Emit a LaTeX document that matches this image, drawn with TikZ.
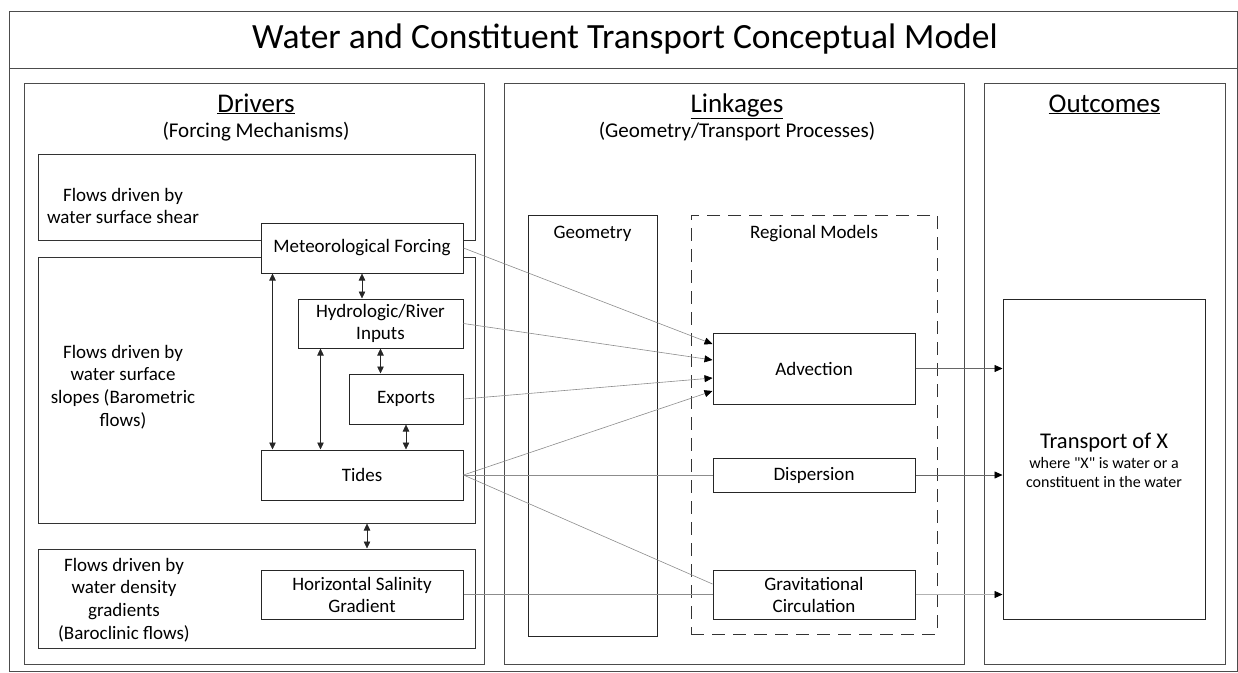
\documentclass[tikz,border=0pt]{standalone}
\usepackage{fontspec}
\setmainfont{Carlito}
\newfontfamily\nomapfont{Carlito}
\usetikzlibrary{arrows.meta}
\begin{document}
\begin{tikzpicture}[x=1pt,y=-1pt,
  frame/.style={draw=black!70, line width=1pt, inner sep=0pt},
  box/.style={draw=black!85, line width=1pt, fill=white, inner sep=0pt, align=center, font=\fontsize{19}{22}\selectfont},
  lbl/.style={inner sep=0pt, align=center, font=\fontsize{19}{22.7}\selectfont},
  head/.style={inner sep=0pt, anchor=base, font=\fontsize{27}{31}\selectfont},
  sub/.style={inner sep=0pt, anchor=base, font=\fontsize{21}{25}\selectfont},
  conn/.style={draw=black!45, line width=0.6pt},
  arr/.style={conn, -{Triangle[length=8pt,width=7pt,color=black]}},
  dbl/.style={draw=black!85, line width=0.6pt, {Triangle[length=7pt,width=6.5pt]}-{Triangle[length=7pt,width=6.5pt]}},
  outarr/.style={draw=black!60, line width=0.6pt, -{Triangle[length=8pt,width=7pt,color=black]}}
]
\useasboundingbox (0,0) rectangle (1238,672);
% outer frame
\node[frame, minimum width=1228pt, minimum height=57pt] (titlebox) at (623,39.5) {};
\node[frame, minimum width=1228pt, minimum height=603pt] (body) at (623,369.5) {};
\node[inner sep=0pt, anchor=base, font=\fontsize{35.5}{40}\selectfont] (title) at (625,48) {Water and Constituent Transport Conceptual Model};
% panels
\node[frame, minimum width=460pt, minimum height=581pt] (drv) at (254,373.5) {};
\node[frame, minimum width=460pt, minimum height=581pt] (lnk) at (734,373.5) {};
\node[frame, minimum width=241pt, minimum height=581pt] (out) at (1104.5,373.5) {};
\node[head] (drvh) at (256,112) {\underline{Drivers}};
\node[sub] (drvs) at (256,137) {(Forcing Mechanisms)};
\node[head] (lnkh) at (737,112) {\underline{Linkages}};
\node[sub] (lnks) at (737,137) {(Geometry/Transport Processes)};
\node[head] (outh) at (1104.5,112) {\underline{Outcomes}};
% driver regions
\node[frame, draw=black!80, minimum width=437pt, minimum height=86pt] (shear) at (256.5,197) {};
\node[frame, draw=black!80, minimum width=437pt, minimum height=266pt] (baro) at (256.5,390) {};
\node[frame, draw=black!80, minimum width=437pt, minimum height=99pt] (clin) at (256.5,598.5) {};
\node[lbl, font=\fontsize{19}{21.5}\selectfont] (sheart) at (123,206) {Flows driven by\\water surface shear};
\node[lbl] (barot) at (123,387) {Flows driven by\\water surface\\slopes (Barometric\\flows)};
\node[lbl] (clint) at (124,600) {Flows driven by\\water density\\gradients\\(Baroclinic flows)};
% driver boxes
\node[box, minimum width=202pt, minimum height=50pt] (met) at (362,248) {Meteorological Forcing};
\node[box, minimum width=165pt, minimum height=49pt] (hyd) at (380.5,323.5) {Hydrologic/River\\Inputs};
\node[box, minimum width=114pt, minimum height=50pt] (exp) at (406,399) {Exports};
\node[box, minimum width=202pt, minimum height=50pt] (tid) at (362,475) {Tides};
\node[box, minimum width=202pt, minimum height=49pt] (sal) at (362,594.5) {Horizontal Salinity\\Gradient};
% linkages
\node[frame, draw=black!85, minimum width=129pt, minimum height=421pt] (geo) at (592.5,425.5) {};
\node[frame, draw=black!80, dash pattern=on 13pt off 8pt, minimum width=246pt, minimum height=419pt] (reg) at (814,424.5) {};
\node[inner sep=0pt, anchor=base, font=\fontsize{19}{22}\selectfont] (geot) at (592.5,238) {Geometry};
\node[inner sep=0pt, anchor=base, font=\fontsize{19}{22}\selectfont] (regt) at (814,238) {Regional Models};
\node[box, minimum width=202pt, minimum height=71pt] (adv) at (814,368.5) {Advection};
\node[box, minimum width=202pt, minimum height=34pt] (dis) at (814,475) {Dispersion};
\node[box, minimum width=202pt, minimum height=49pt] (grv) at (814,594.5) {Gravitational\\Circulation};
% outcome
\node[box, minimum width=202pt, minimum height=320pt] (trn) at (1104,459) {};
\node[inner sep=0pt, anchor=base, font=\fontsize{22.5}{27}\selectfont] (trnt) at (1104,448) {Transport of X};
\node[inner sep=0pt, anchor=base, font=\nomapfont\fontsize{16}{19}\selectfont] (trns1) at (1104,468) {where "X" is water or a};
\node[inner sep=0pt, anchor=base, font=\fontsize{16}{19}\selectfont] (trns2) at (1104,487) {constituent in the water};
% double arrows in drivers
\draw[dbl] (met.south) -- (met.south |- hyd.north);
\draw[dbl] (hyd.south) -- (hyd.south |- exp.north);
\draw[dbl] (exp.south) -- (exp.south |- tid.north);
\draw[dbl] ([xshift=12pt]met.south west) -- ([xshift=12pt]tid.north west);
\draw[dbl] ([xshift=23pt]hyd.south west) -- ([xshift=23pt]hyd.south west |- tid.north);
\draw[dbl] ([xshift=110.5pt]baro.south) -- ([xshift=110.5pt]clin.north);
% connectors to linkages
\draw[arr] (met.east) -- ([yshift=24.5pt]adv.west);
\draw[arr] (hyd.east) -- ([yshift=8.5pt]adv.west);
\draw[arr] (exp.east) -- ([yshift=-9.5pt]adv.west);
\draw[arr] (tid.east) -- ([yshift=-22.5pt]adv.west);
\draw[conn] (tid.east) -- (dis.west);
\draw[conn] (tid.east) -- ([yshift=10.5pt]grv.west);
\draw[conn] (sal.east) -- (grv.west);
% connectors to outcome
\draw[outarr] (adv.east) -- (adv.east -| trn.west);
\draw[outarr] (dis.east) -- (dis.east -| trn.west);
\draw[outarr, draw=black!30] (grv.east) -- (grv.east -| trn.west);
\end{tikzpicture}
\end{document}
